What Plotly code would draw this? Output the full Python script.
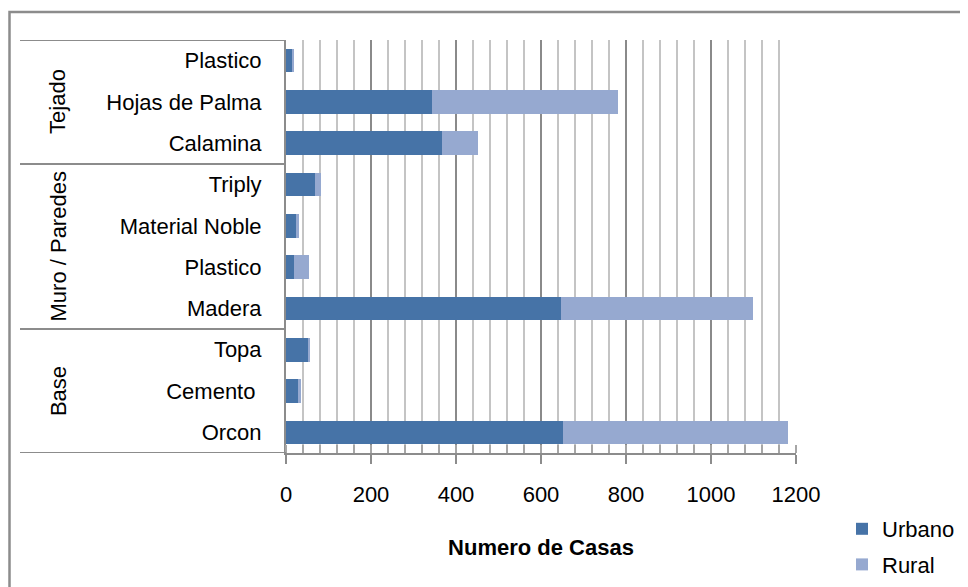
import plotly.graph_objects as go

# categories, bottom to top
groups = ["Base", "Base", "Base",
          "Muro / Paredes", "Muro / Paredes", "Muro / Paredes", "Muro / Paredes",
          "Tejado", "Tejado", "Tejado"]
labels = ["Orcon", "Cemento ", "Topa",
          "Madera", "Plastico", "Material Noble", "Triply",
          "Calamina", "Hojas de Palma", "Plastico"]
urbano = [652, 28, 54, 647, 19, 23, 68, 367, 343, 14]
rural = [528, 7, 2, 451, 35, 7, 14, 85, 438, 5]

FONT = "Liberation Sans, Arial, sans-serif"
pos = list(range(len(labels)))

fig = go.Figure()
fig.add_trace(go.Bar(y=pos, x=urbano, orientation="h", name="Urbano", legendgroup="u",
                     marker=dict(color="#4673A7", line=dict(width=0)), width=0.57))
fig.add_trace(go.Bar(y=pos, x=rural, orientation="h", name="Rural", legendgroup="r",
                     marker=dict(color="#96A9D0", line=dict(width=0)), width=0.57))

# page body has an 8px margin, so the figure is offset by 8px on screen
O = 8
W, H = 968 - O, 587 - O
# plot area in screen pixels: x 286..796, y 40..453
L, R, T, B = 286 - O, 796 - O, 40 - O, 453 - O
pw, ph = R - L, B - T
def px(x):
    return (x - O - L) / pw
def py(y):
    return (B - (y - O)) / ph

shapes = []
# group dividers (between groups and at top/bottom)
bounds = [-0.5]
for i in range(1, len(groups)):
    if groups[i] != groups[i - 1]:
        bounds.append(i - 0.5)
bounds.append(len(groups) - 0.5)
for b in bounds:
    shapes.append(dict(type="line", xref="paper", yref="y", x0=px(20), x1=0,
                       y0=b, y1=b, line=dict(color="#8C8C8C", width=2)))
# outer chart border
shapes.append(dict(type="rect", xref="paper", yref="paper", x0=px(O + 1.5), x1=px(1000),
                   y0=py(600), y1=py(12), line=dict(color="#8C8C8C", width=2.5)))

annotations = []
seen = []
for g in groups:
    if g not in seen:
        seen.append(g)
for g in seen:
    idx = [i for i, v in enumerate(groups) if v == g]
    annotations.append(dict(text=g, xref="paper", yref="y", x=px(58),
                            y=sum(idx) / len(idx), showarrow=False, textangle=-90,
                            xanchor="center", yanchor="middle",
                            font=dict(family=FONT, size=22, color="#000")))

fig.update_layout(
    width=W, height=H,
    margin=dict(l=L, r=W - R, t=T, b=H - B, autoexpand=False),
    paper_bgcolor="white", plot_bgcolor="white",
    barmode="stack",
    font=dict(family=FONT, size=22, color="#000"),
    shapes=shapes, annotations=annotations,
    showlegend=True,
    legend=dict(xref="container", yref="container", x=(842 - O) / W, y=1 - (508 - O) / H,
                xanchor="left", yanchor="top", traceorder="grouped",
                font=dict(family=FONT, size=22), tracegroupgap=4,
                itemwidth=30, bgcolor="rgba(0,0,0,0)"),
    xaxis=dict(range=[0, 1200], dtick=200, showgrid=True, gridcolor="#8A8A8A",
               gridwidth=2, showline=True, linecolor="#8C8C8C", linewidth=2,
               ticks="outside", ticklen=9, tickwidth=2, tickcolor="#8C8C8C",
               zeroline=False, automargin=False, ticklabelstandoff=12,
               minor=dict(dtick=40, showgrid=True, gridcolor="#C4C4C4", gridwidth=2,
                          ticks="inside", ticklen=8, tickcolor="#A6A6A6", tickwidth=1.5),
               tickfont=dict(size=22),
               title=dict(text="<b>Numero de Casas</b>", font=dict(size=22), standoff=33)),
    yaxis=dict(range=[-0.5, len(labels) - 0.5], tickvals=pos, ticktext=labels,
               showgrid=False, zeroline=False, showline=True, linecolor="#8C8C8C",
               linewidth=2, ticks="", ticklabelstandoff=18, automargin=False,
               tickfont=dict(size=22)),
)

fig.write_html("out.html")
